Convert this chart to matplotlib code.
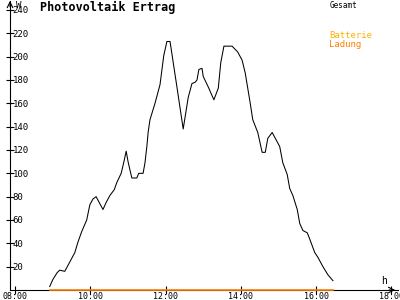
import matplotlib
matplotlib.use('Agg')
import matplotlib.pyplot as plt

# Gesamt-Leistung in W, Zeitpunkte als Uhrzeit
times = ['08:55', '09:00', '09:07', '09:11', '09:19', '09:27', '09:35', '09:40',
         '09:46', '09:54', '09:59', '10:04', '10:09', '10:14', '10:20', '10:25',
         '10:31', '10:38', '10:42', '10:49', '10:53', '10:57', '11:00', '11:06',
         '11:14', '11:17', '11:24', '11:27', '11:30', '11:32', '11:35', '11:43',
         '11:51', '11:57', '12:02', '12:07', '12:18', '12:28', '12:36', '12:42',
         '12:47', '12:50', '12:53', '12:58', '13:00', '13:08', '13:17', '13:24',
         '13:28', '13:33', '13:46', '13:55', '14:02', '14:07', '14:15', '14:19',
         '14:27', '14:34', '14:39', '14:43', '14:50', '14:58', '15:02', '15:07',
         '15:14', '15:18', '15:23', '15:30', '15:34', '15:39', '15:46', '15:49',
         '15:58', '16:03', '16:11', '16:19', '16:27']
gesamt = [3, 9, 15, 17, 16, 24, 32, 41,
          50, 60, 73, 78, 80, 75, 69, 75,
          81, 86, 92, 100, 109, 119, 110, 96,
          96, 100, 100, 109, 123, 135, 146, 160,
          176, 201, 213, 213, 174, 138, 165, 177,
          178, 180, 189, 190, 183, 174, 163, 173,
          195, 209, 209, 204, 197, 186, 160, 146,
          135, 118, 118, 130, 135, 127, 123, 109,
          99, 87, 81, 69, 57, 51, 49, 45,
          32, 28, 20, 13, 8]
ladung = [0] * len(times)

xticks = [8, 10, 12, 14, 16, 18]
xtick_labels = ['08:00', '10:00', '12:00', '14:00', '16:00', '18:00']
yticks = list(range(20, 241, 20))


def to_hours(s):
    h, m = s.split(':')
    return int(h) + int(m) / 60.0


def main():
    hours = [to_hours(t) for t in times]
    mono = 'DejaVu Sans Mono'

    fig = plt.figure(figsize=(4, 3), dpi=100)
    ax = fig.add_axes([10 / 400, 10 / 300, 388 / 400, 289 / 300])
    ax.set_xlim(7.86, 18.18)
    ax.set_ylim(0, 247.7)

    ax.plot(hours, gesamt, color='black', lw=0.75, zorder=3)
    ax.plot(hours, ladung, color='#ff8000', lw=1.2, zorder=4, clip_on=False)

    for s in ['top', 'right']:
        ax.spines[s].set_visible(False)
    ax.spines['left'].set_linewidth(0.8)
    ax.spines['bottom'].set_linewidth(0.8)

    ax.set_xticks(xticks)
    ax.set_xticklabels(xtick_labels, family=mono, fontsize=6)
    ax.set_yticks(yticks)
    ax.set_yticklabels([str(v) for v in yticks], family=mono, fontsize=6.5, ha='left')
    ax.tick_params(axis='x', direction='inout', length=6, width=0.8, pad=-1.8)
    ax.tick_params(axis='y', direction='inout', length=6, width=0.8, pad=-5)

    # Pfeile an den Achsen
    ax.annotate('', xy=(0, 1.01), xycoords='axes fraction', xytext=(0, 0.97),
                arrowprops=dict(arrowstyle='->', lw=0.8, color='black'))
    ax.annotate('', xy=(1.0, 0), xycoords='axes fraction', xytext=(0.97, 0),
                arrowprops=dict(arrowstyle='->', lw=0.8, color='black'))

    ax.text(0.015, 1.0, 'W', transform=ax.transAxes, family=mono, fontsize=6.5,
            va='top', ha='left')
    ax.text(0.965, 0.015, 'h', transform=ax.transAxes, family=mono, fontsize=7,
            va='bottom', ha='center')

    fig.text(40 / 400, 1 - 7 / 300, 'Photovoltaik Ertrag', family=mono,
             fontsize=8.5, fontweight='bold', va='center', ha='left')
    fig.text(330 / 400, 1 - 5 / 300, 'Gesamt', family=mono, fontsize=5.5,
             color='black', va='center', ha='left')
    fig.text(329 / 400, 1 - 36 / 300, 'Batterie', family=mono, fontsize=6.5,
             color='#ffb000', va='center', ha='left')
    fig.text(329 / 400, 1 - 44 / 300, 'Ladung', family=mono, fontsize=6.5,
             color='#ff8000', va='center', ha='left')

    fig.savefig('out.png', dpi=100)


if __name__ == '__main__':
    main()
